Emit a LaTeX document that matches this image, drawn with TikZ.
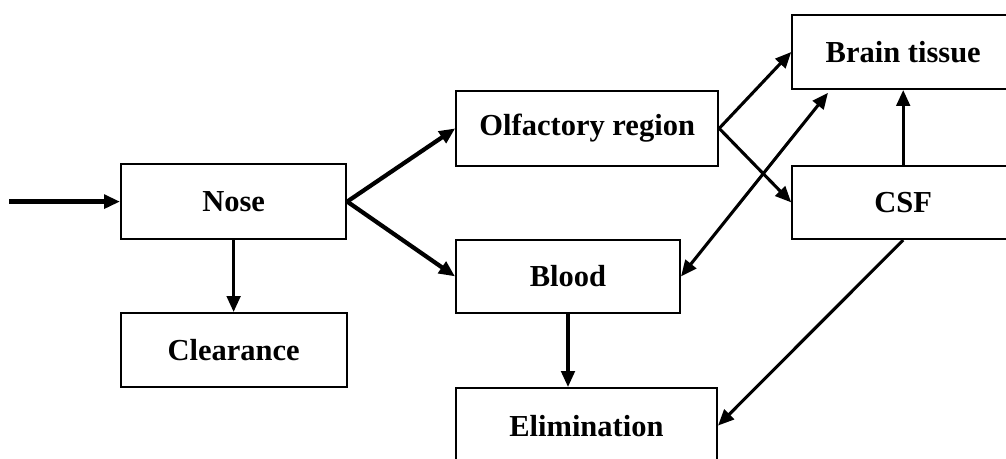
\documentclass[tikz,border=0pt]{standalone}
\usepackage{fontspec}
\setmainfont{Liberation Serif}
\usetikzlibrary{arrows.meta}

\begin{document}
\begin{tikzpicture}[
  x=1cm,
  y=1cm,
  box/.style={draw=black, line width=1.4pt, inner sep=0pt,
    font=\fontsize{21.7}{26}\selectfont\bfseries, text=black},
  flow/.style={draw=black, line width=2.2pt,
    -{Triangle[length=4mm,width=3.4mm]}},
  main flow/.style={flow, line width=3pt},
  both flow/.style={draw=black, line width=2.2pt,
    {Triangle[length=4mm,width=3.4mm]}-{Triangle[length=4mm,width=3.4mm]}}
]
  \path[use as bounding box] (0,0) rectangle (25.15,11.45);

  % Entry point and local clearance.
  \node[box, minimum width=5.63cm, minimum height=1.88cm] (nose)
    at (5.84,6.41) {Nose};
  \node[box, minimum width=5.65cm, minimum height=1.85cm] (clearance)
    at (5.84,2.70) {Clearance};
  \coordinate (dose) at (0.23,6.41);
  \draw[main flow] (dose) -- (nose.west);
  \draw[flow] (nose.south) -- (clearance.north);

  % Two absorption routes.
  \node[box, minimum width=6.55cm, minimum height=1.88cm] (olfactory)
    at (14.68,8.24) {Olfactory region};
  \node[box, minimum width=5.60cm, minimum height=1.83cm] (blood)
    at (14.20,4.54) {Blood};
  \node[box, minimum width=6.53cm, minimum height=1.88cm] (elimination)
    at (14.66,0.81) {Elimination};
  \draw[main flow] (nose.east) -- (olfactory.west);
  \draw[main flow] (nose.east) -- (blood.west);
  \draw[flow] (blood.south) -- (blood.south |- elimination.north);

  % Central nervous system.
  \node[box, minimum width=5.55cm, minimum height=1.85cm] (brain)
    at (22.58,10.15) {Brain tissue};
  \node[box, minimum width=5.55cm, minimum height=1.83cm] (csf)
    at (22.58,6.39) {CSF};
  \draw[flow] (olfactory.east) -- (brain.west);
  \draw[flow] (olfactory.east) -- (csf.west);
  \draw[flow] (csf.north) -- (brain.south);
  \coordinate (brain tip) at (20.70,9.13);
  \draw[both flow] (blood.east) -- (brain tip);
  \draw[flow] (csf.south) -- (elimination.east);
\end{tikzpicture}
\end{document}
